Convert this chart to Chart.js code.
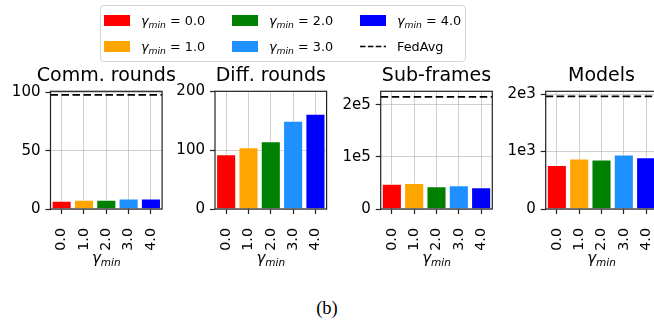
<!DOCTYPE html>
<html>
<head>
<meta charset="utf-8">
<script src="https://cdn.jsdelivr.net/npm/chart.js@4.4.1/dist/chart.umd.min.js"></script>
<style>
  html, body { margin: 0; padding: 0; width: 654px; height: 321px; overflow: hidden; background: #fff; }
  body { position: relative; font-family: "DejaVu Sans", sans-serif; }
  canvas { position: absolute; top: 0; }
  #legend { position: absolute; left: 100px; top: 5px; width: 364px; height: 55px;
            border: 1px solid #d4d4d4; border-radius: 4px; background: rgba(255,255,255,0.85); z-index: 5; }
  .item { position: absolute; height: 16px; display: flex; align-items: center; font-size: 12.8px; color: #000; white-space: nowrap; }
  .swatch { width: 26px; height: 11px; margin-right: 11px; flex: none; }
  .item sub { font-size: 72%; vertical-align: -0.3em; line-height: 0; }
  #caption { position: absolute; left: 0; width: 654px; top: 299px; text-align: center;
             font-family: "Liberation Serif", "Times New Roman", serif; font-size: 18.5px; line-height: 1; color: #000; }
</style>
</head>
<body>
<div id="legend"></div>
<div id="caption">(b)</div>
<script>
// ---- data ----
const gammaLabels = ['0.0', '1.0', '2.0', '3.0', '4.0'];
const barColors = ['#ff0000', '#ffa500', '#008000', '#1e90ff', '#0000ff'];
const panelTitles = ['Comm. rounds', 'Diff. rounds', 'Sub-frames', 'Models'];

const commRounds = [7, 8, 8, 9, 9];
const diffRounds = [93, 105, 115, 150, 162];
const subFrames  = [48400, 49700, 43400, 45300, 41500];
const models     = [768, 878, 861, 948, 901];

const fedAvgCommRounds = 98;
const fedAvgSubFrames  = 215000;
const fedAvgModels     = 1960;

const yMaxValues = [101, 200, 225500, 2050];

const commTicks = [0, 50, 100];        const commTickLabels = ['0', '50', '100'];
const diffTicks = [0, 100, 200];       const diffTickLabels = ['0', '100', '200'];
const subTicks  = [0, 100000, 200000]; const subTickLabels  = ['0', '1e5', '2e5'];
const modelTicks = [0, 1000, 2000];    const modelTickLabels = ['0', '1e3', '2e3'];

// ---- layout ----
const FONT = '"DejaVu Sans"';
const plotLefts = [50.5, 215, 380.7, 545.7];
const plotWidth = 111.6;
const plotTop = 91.3;
const plotBottom = 209;
const gridColor = 'rgba(176,176,176,0.6)';
const spineColor = '#222';

const panels = [
  { title: panelTitles[0], values: commRounds, fedAvg: fedAvgCommRounds, yMax: yMaxValues[0], ticks: commTicks, tickLabels: commTickLabels },
  { title: panelTitles[1], values: diffRounds, fedAvg: null,             yMax: yMaxValues[1], ticks: diffTicks, tickLabels: diffTickLabels },
  { title: panelTitles[2], values: subFrames,  fedAvg: fedAvgSubFrames,  yMax: yMaxValues[2], ticks: subTicks,  tickLabels: subTickLabels },
  { title: panelTitles[3], values: models,     fedAvg: fedAvgModels,     yMax: yMaxValues[3], ticks: modelTicks, tickLabels: modelTickLabels }
];

// box around the plotting area (all four spines)
const framePlugin = {
  id: 'frame',
  afterDraw(chart) {
    const { ctx, chartArea: a } = chart;
    ctx.save();
    ctx.strokeStyle = spineColor;
    ctx.lineWidth = 1.2;
    ctx.strokeRect(a.left, a.top, a.right - a.left, a.bottom - a.top);
    ctx.restore();
  }
};

// horizontal dashed FedAvg reference line
const fedAvgPlugin = {
  id: 'fedAvgLine',
  afterDatasetsDraw(chart, args, opts) {
    if (opts.value == null) return;
    const { ctx, chartArea: a } = chart;
    const y = chart.scales.y.getPixelForValue(opts.value);
    ctx.save();
    ctx.beginPath();
    ctx.rect(a.left, a.top, a.right - a.left, a.bottom - a.top);
    ctx.clip();
    ctx.strokeStyle = '#000';
    ctx.lineWidth = 1.8;
    ctx.setLineDash([7.5, 3.5]);
    ctx.beginPath();
    ctx.moveTo(a.left, y);
    ctx.lineTo(a.right, y);
    ctx.stroke();
    ctx.restore();
  }
};

// panel title centred over the plotting area, plus the x-axis title
// (italic gamma with a "min" subscript)
const panelTextPlugin = {
  id: 'panelText',
  afterDraw(chart, args, opts) {
    const { ctx, chartArea: a } = chart;
    const cx = (a.left + a.right) / 2;
    ctx.save();
    ctx.fillStyle = '#000';
    ctx.textBaseline = 'alphabetic';

    ctx.font = '19px ' + FONT;
    ctx.textAlign = 'center';
    ctx.fillText(opts.title, cx, 81);

    ctx.textAlign = 'left';
    ctx.font = 'italic 15px ' + FONT;
    const wG = ctx.measureText('γ').width;
    ctx.font = 'italic 10.5px ' + FONT;
    const wS = ctx.measureText('min').width;
    const x0 = cx - (wG + wS) / 2;
    ctx.font = 'italic 15px ' + FONT;
    ctx.fillText('γ', x0, 263);
    ctx.font = 'italic 10.5px ' + FONT;
    ctx.fillText('min', x0 + wG, 265.5);
    ctx.restore();
  }
};

panels.forEach((p, i) => {
  const L = plotLefts[i];
  const canvasLeft = Math.floor(L) - 60;
  const yWidth = L - canvasLeft;
  const canvasWidth = Math.ceil(yWidth + plotWidth + 25);
  const rightPad = canvasWidth - yWidth - plotWidth;

  const cv = document.createElement('canvas');
  cv.width = canvasWidth;
  cv.height = 321;
  cv.style.left = canvasLeft + 'px';
  cv.style.width = canvasWidth + 'px';
  cv.style.height = '321px';
  document.body.appendChild(cv);

  new Chart(cv, {
    type: 'bar',
    data: {
      labels: gammaLabels,
      datasets: [{
        data: p.values,
        backgroundColor: barColors,
        borderColor: 'rgba(255,255,255,0.45)',
        borderWidth: 1,
        categoryPercentage: 0.9,
        barPercentage: 1.0
      }]
    },
    options: {
      responsive: false,
      animation: false,
      devicePixelRatio: 1,
      layout: { padding: { top: plotTop, right: rightPad, bottom: 0, left: 0 } },
      plugins: {
        legend: { display: false },
        tooltip: { enabled: false },
        title: { display: false },
        fedAvgLine: { value: p.fedAvg },
        panelText: { title: p.title }
      },
      scales: {
        x: {
          z: 1,
          offset: true,
          grid: { offset: false, color: gridColor, lineWidth: 1, drawTicks: true, tickLength: 5, tickColor: spineColor, tickWidth: 1.2 },
          border: { display: false },
          ticks: { color: '#000', font: { family: FONT, size: 14.3 }, minRotation: 90, maxRotation: 90, padding: 14, autoSkip: false },
          afterFit: s => { s.height = 321 - plotBottom; }
        },
        y: {
          z: 1,
          min: 0,
          max: p.yMax,
          afterBuildTicks: s => { s.ticks = p.ticks.map(v => ({ value: v })); },
          grid: { color: gridColor, lineWidth: 1, drawTicks: true, tickLength: 5, tickColor: spineColor, tickWidth: 1.2 },
          border: { display: false },
          ticks: { color: '#000', font: { family: FONT, size: 15 }, padding: 5, callback: (v, idx) => p.tickLabels[idx] },
          afterFit: s => { s.width = yWidth; }
        }
      }
    },
    plugins: [fedAvgPlugin, framePlugin, panelTextPlugin]
  });
});

// ---- shared legend ----
const legendEl = document.getElementById('legend');
const colX = [3, 131, 259];     // swatch x inside the legend box
const rowY = [6, 32];           // item top inside the legend box
const legendItems = gammaLabels.map((g, k) => ({ color: barColors[k], text: g }));
legendItems.push({ dashed: true, text: 'FedAvg' });
legendItems.forEach((it, k) => {
  const col = Math.floor(k / 2), row = k % 2;
  const d = document.createElement('div');
  d.className = 'item';
  d.style.left = colX[col] + 'px';
  d.style.top = rowY[row] + 'px';
  if (it.dashed) {
    d.innerHTML = '<svg class="swatch" width="26" height="11" viewBox="0 0 26 11"><line x1="0" y1="5.5" x2="26" y2="5.5" stroke="#000" stroke-width="1.5" stroke-dasharray="5.5 2.4"/></svg><span>' + it.text + '</span>';
  } else {
    d.innerHTML = '<span class="swatch" style="background:' + it.color + '"></span><span><i>γ</i><sub><i>min</i></sub> = ' + it.text + '</span>';
  }
  legendEl.appendChild(d);
});
</script>
</body>
</html>
